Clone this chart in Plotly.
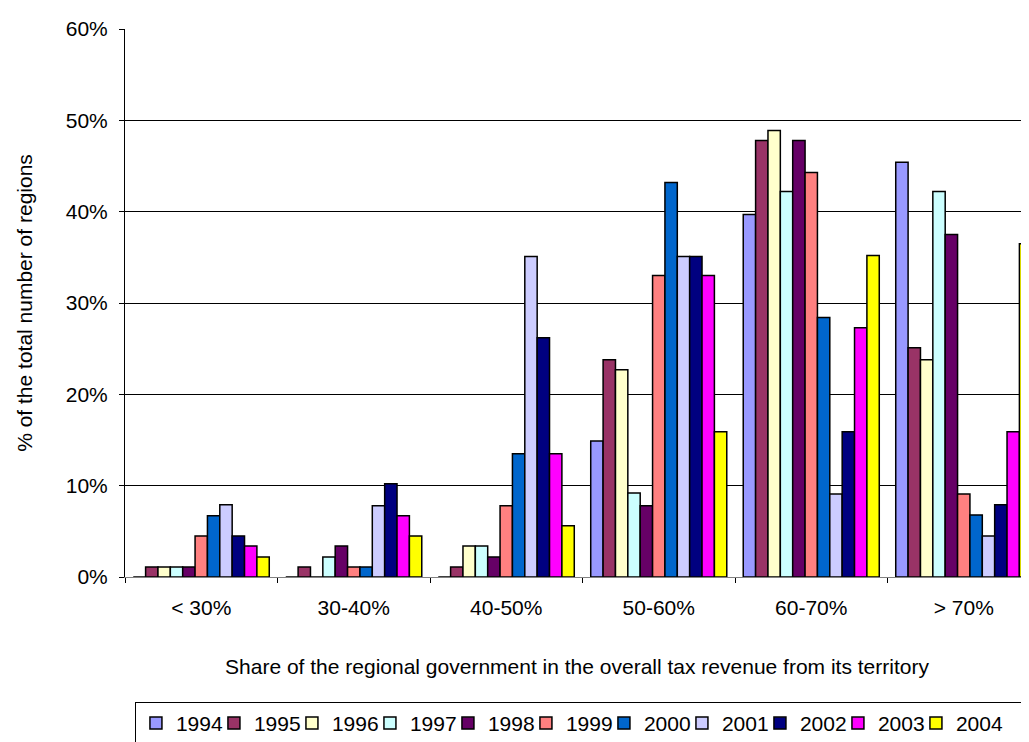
import plotly.graph_objects as go

categories = ["< 30%", "30-40%", "40-50%", "50-60%", "60-70%", "> 70%"]
years = ["1994", "1995", "1996", "1997", "1998", "1999", "2000", "2001", "2002", "2003", "2004"]

# values in % of regions, per year across the six categories
v1994 = [0.0, 0.0, 0.0, 14.9, 39.7, 45.4]
v1995 = [1.1, 1.1, 1.1, 23.8, 47.8, 25.1]
v1996 = [1.1, 0.0, 3.4, 22.7, 48.9, 23.8]
v1997 = [1.1, 2.2, 3.4, 9.2, 42.2, 42.2]
v1998 = [1.1, 3.4, 2.2, 7.8, 47.8, 37.5]
v1999 = [4.5, 1.1, 7.8, 33.0, 44.3, 9.1]
v2000 = [6.7, 1.1, 13.5, 43.2, 28.4, 6.8]
v2001 = [7.9, 7.8, 35.1, 35.1, 9.1, 4.5]
v2002 = [4.5, 10.2, 26.2, 35.1, 15.9, 7.9]
v2003 = [3.4, 6.7, 13.5, 33.0, 27.3, 15.9]
v2004 = [2.2, 4.5, 5.6, 15.9, 35.2, 36.5]

series = [v1994, v1995, v1996, v1997, v1998, v1999, v2000, v2001, v2002, v2003, v2004]
colors = ["#9999FF", "#993366", "#FFFFCC", "#CCFFFF", "#660066", "#FF8080",
          "#0066CC", "#CCCCFF", "#000080", "#FF00FF", "#FFFF00"]

FONT = "Arial, Liberation Sans, sans-serif"

fig = go.Figure()
for i, (yr, vals, col) in enumerate(zip(years, series, colors)):
    fig.add_trace(go.Bar(
        name=yr, x=categories, y=[v / 100 for v in vals],
        marker=dict(color=col, line=dict(color="black", width=1.5)),
        legendwidth=(65 if i == len(years) - 1 else None),
    ))

fig.update_layout(
    template="none",
    width=1021, height=734,
    barmode="group", bargap=0.108, bargroupgap=0,
    paper_bgcolor="white", plot_bgcolor="white",
    margin=dict(l=117, r=0, t=21, b=165, autoexpand=False),
    font=dict(family=FONT, size=21, color="black"),
    showlegend=True,
    legend=dict(
        orientation="h", x=0.011, xanchor="left", y=-0.228, yanchor="top",
        bordercolor="black", borderwidth=1, bgcolor="white",
        font=dict(size=21, family=FONT), itemwidth=30,
        entrywidth=33, entrywidthmode="pixels", tracegroupgap=0,
    ),
    xaxis=dict(
        range=[-0.5, -0.5 + 904 / 152.5], automargin=False,
        showline=True, linecolor="#808080", linewidth=1,
        ticks="outside", tickson="boundaries", ticklen=5, tickcolor="black",
        showgrid=False, zeroline=False, ticklabelstandoff=12,
        title=dict(text="Share of the regional government in the overall tax revenue from its territory",
                   standoff=41, font=dict(size=21)),
    ),
    yaxis=dict(
        range=[0, 0.6], dtick=0.1, tickformat=".0%", automargin=False,
        showline=True, linecolor="black", linewidth=1,
        ticks="outside", ticklen=5, tickcolor="black",
        showgrid=True, gridcolor="black", gridwidth=1,
        zeroline=False, ticklabelstandoff=7,
        title=dict(text="% of the total number of regions", standoff=27, font=dict(size=21)),
    ),
)

fig.write_html("out.html")
